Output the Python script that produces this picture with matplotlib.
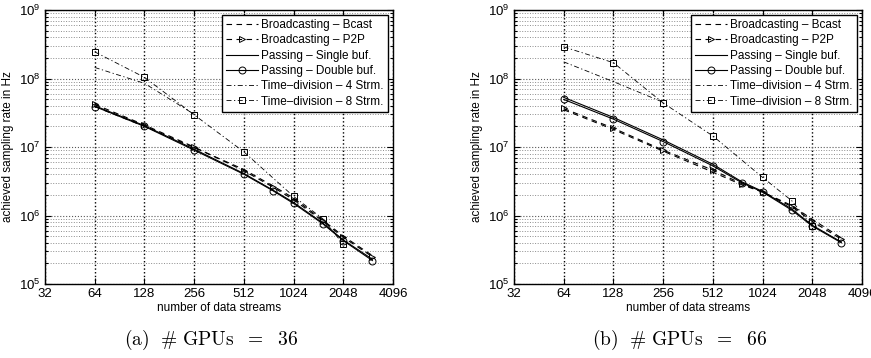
import matplotlib
matplotlib.use("Agg")
import matplotlib.pyplot as plt
from matplotlib.ticker import FixedLocator, NullFormatter, LogLocator

plt.rcParams['font.family'] = ['Liberation Sans', 'DejaVu Sans']
plt.rcParams['mathtext.fontset'] = 'custom'
plt.rcParams['mathtext.rm'] = 'Liberation Sans'

# ---------------- data ----------------
x_full = [64, 128, 256, 512, 768, 1024, 1536, 2048, 3072]
x_4strm = [64, 128, 256]
x_8strm = [64, 128, 256, 512, 1024, 1536, 2048]

# (a) 36 GPUs
a_bcast = [3.9e7, 2.0e7, 9.8e6, 4.7e6, 2.7e6, 1.8e6, 8.6e5, 5.0e5, 2.6e5]
a_p2p = [4.2e7, 2.1e7, 1.0e7, 4.5e6, 2.6e6, 1.7e6, 8.3e5, 4.8e5, 2.5e5]
a_single = [4.0e7, 2.05e7, 9.3e6, 4.1e6, 2.35e6, 1.55e6, 7.8e5, 4.4e5, 2.3e5]
a_double = [3.9e7, 2.0e7, 9.0e6, 4.0e6, 2.3e6, 1.5e6, 7.6e5, 4.3e5, 2.2e5]
a_4strm = [1.45e8, 8.5e7, 3.0e7]
a_8strm = [2.45e8, 1.04e8, 2.95e7, 8.5e6, 1.9e6, 9.0e5, 3.8e5]

# (b) 66 GPUs
b_bcast = [3.5e7, 1.8e7, 8.7e6, 4.3e6, 2.8e6, 2.2e6, 1.4e6, 8.8e5, 4.7e5]
b_p2p = [3.65e7, 1.88e7, 9.0e6, 4.6e6, 2.9e6, 2.2e6, 1.35e6, 8.2e5, 4.5e5]
b_single = [5.3e7, 2.7e7, 1.27e7, 5.6e6, 3.1e6, 2.25e6, 1.25e6, 7.2e5, 4.1e5]
b_double = [4.95e7, 2.55e7, 1.2e7, 5.3e6, 3.0e6, 2.2e6, 1.2e6, 7.0e5, 4.0e5]
b_4strm = [1.75e8, 9.0e7, 4.5e7]
b_8strm = [2.9e8, 1.7e8, 4.4e7, 1.45e7, 3.6e6, 1.65e6, 7.0e5]

labels = ['Broadcasting – Bcast', 'Broadcasting – P2P', 'Passing – Single buf.',
          'Passing – Double buf.', 'Time–division – 4 Strm.', 'Time–division – 8 Strm.']
xticks = [32, 64, 128, 256, 512, 1024, 2048, 4096]
xticklabels = ['32', '64', '128', '256', '512', '1024', '2048', '4096']
captions = [r'$\mathrm{(a)\ \ \#\ GPUs\ \ =\ \ 36}$', r'$\mathrm{(b)\ \ \#\ GPUs\ \ =\ \ 66}$']

W, H = 871, 358
fig = plt.figure(figsize=(W / 100, H / 100), dpi=100)

axes_px = [(45, 10, 393, 284), (514, 10, 862, 284)]
datasets = [
    (a_bcast, a_p2p, a_single, a_double, a_4strm, a_8strm),
    (b_bcast, b_p2p, b_single, b_double, b_4strm, b_8strm),
]

lw = 0.8
ms = 5
fs = 8.5
for i, ((x0, y0, x1, y1), d) in enumerate(zip(axes_px, datasets)):
    ax = fig.add_axes([x0 / W, 1 - y1 / H, (x1 - x0) / W, (y1 - y0) / H])
    bc, p2p, sg, db, t4, t8 = d
    ax.plot(x_full, bc, color='k', ls=(0, (5, 4)), lw=lw, label=labels[0])
    ax.plot(x_full, p2p, color='k', ls=(0, (5, 4)), lw=lw, marker='>', ms=ms,
            mfc='none', mew=0.7, label=labels[1])
    ax.plot(x_full, sg, color='k', ls='-', lw=lw, label=labels[2])
    ax.plot(x_full, db, color='k', ls='-', lw=lw, marker='o', ms=ms,
            mfc='none', mew=0.7, label=labels[3])
    ax.plot(x_4strm, t4, color='k', ls=(0, (6, 3, 1.5, 3)), lw=0.6, label=labels[4])
    ax.plot(x_8strm, t8, color='k', ls=(0, (6, 3, 1.5, 3)), lw=0.6, marker='s', ms=ms,
            mfc='none', mew=0.7, label=labels[5])

    ax.set_xscale('log', base=2)
    ax.set_yscale('log')
    ax.set_xlim(32, 4096)
    ax.set_ylim(1e5, 1e9)
    ax.set_xticks(xticks)
    ax.set_xticklabels(xticklabels)
    ax.xaxis.set_minor_locator(FixedLocator([]))
    ax.yaxis.set_major_locator(LogLocator(base=10, numticks=10))
    ax.yaxis.set_minor_locator(LogLocator(base=10, subs=range(2, 10), numticks=50))
    ax.yaxis.set_minor_formatter(NullFormatter())

    ax.grid(which='major', axis='x', ls=':', color='k', lw=1.0)
    ax.grid(which='major', axis='y', ls=':', color='0.35', lw=0.8)
    ax.grid(which='minor', axis='y', ls=':', color='0.55', lw=0.7)
    ax.set_axisbelow(True)

    ax.tick_params(which='both', direction='in', top=True, right=True, labelsize=9.5,
                   width=0.8)
    ax.tick_params(which='major', length=4)
    ax.tick_params(which='minor', length=2)
    ax.tick_params(axis='x', pad=3)
    for s in ax.spines.values():
        s.set_linewidth(1.0)

    ax.set_xlabel('number of data streams', fontsize=fs, labelpad=1)
    ax.set_ylabel('achieved sampling rate in Hz', fontsize=fs, labelpad=3)

    leg = ax.legend(loc='upper right', fontsize=fs, numpoints=1, handlelength=2.7,
                    handletextpad=0.3, borderpad=0.35, labelspacing=0.28,
                    borderaxespad=0.42, fancybox=False, framealpha=1)
    leg.get_frame().set_edgecolor('k')
    leg.get_frame().set_linewidth(1.0)

    cx = ((x0 + x1) / 2 - 8) / W
    fig.text(cx, 1 - 340 / H, captions[i], ha='center', va='center', fontsize=14,
             math_fontfamily='cm')

fig.savefig('out.png', dpi=100)
